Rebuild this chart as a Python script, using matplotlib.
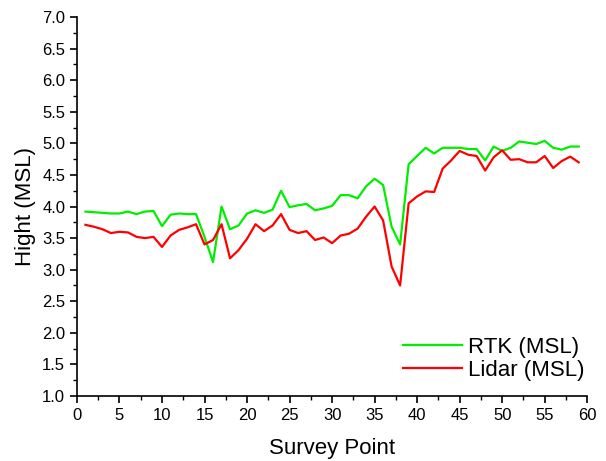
import matplotlib
matplotlib.use("Agg")
import matplotlib.pyplot as plt
from matplotlib.ticker import MultipleLocator, FormatStrFormatter

plt.rcParams['font.family'] = ['Liberation Sans', 'DejaVu Sans']

survey_points = list(range(1, 60))
rtk = [3.92, 3.91, 3.90, 3.89, 3.89, 3.92, 3.88, 3.92, 3.93, 3.69,
       3.87, 3.89, 3.88, 3.88, 3.52, 3.12, 4.00, 3.64, 3.70, 3.89,
       3.94, 3.90, 3.95, 4.25, 3.99, 4.02, 4.04, 3.94, 3.97, 4.01,
       4.18, 4.18, 4.13, 4.32, 4.44, 4.34, 3.68, 3.40, 4.67, 4.80,
       4.93, 4.84, 4.93, 4.93, 4.93, 4.91, 4.91, 4.73, 4.95, 4.88,
       4.93, 5.03, 5.01, 4.99, 5.04, 4.93, 4.90, 4.95, 4.95]
lidar = [3.71, 3.68, 3.64, 3.58, 3.60, 3.59, 3.52, 3.50, 3.52, 3.36,
         3.54, 3.63, 3.67, 3.72, 3.40, 3.47, 3.72, 3.18, 3.31, 3.49,
         3.72, 3.61, 3.70, 3.88, 3.63, 3.58, 3.61, 3.47, 3.51, 3.42,
         3.54, 3.57, 3.65, 3.84, 4.00, 3.78, 3.05, 2.75, 4.05, 4.16,
         4.24, 4.23, 4.60, 4.73, 4.88, 4.82, 4.80, 4.57, 4.78, 4.89,
         4.74, 4.75, 4.70, 4.70, 4.80, 4.61, 4.72, 4.79, 4.70]

fig = plt.figure(figsize=(6.06, 4.61), dpi=100)
ax = fig.add_axes([0.127, 0.141, 0.842, 0.822])
ax.plot(survey_points, rtk, color='#00ee00', lw=1.6, label='RTK (MSL)')
ax.plot(survey_points, lidar, color='#ff0000', lw=1.6, label='Lidar (MSL)')

ax.set_xlim(0, 60)
ax.set_ylim(1.0, 7.0)
ax.xaxis.set_major_locator(MultipleLocator(5))
ax.xaxis.set_minor_locator(MultipleLocator(2.5))
ax.yaxis.set_major_locator(MultipleLocator(0.5))
ax.yaxis.set_minor_locator(MultipleLocator(0.25))
ax.yaxis.set_major_formatter(FormatStrFormatter('%.1f'))
for s in ['top', 'right']:
    ax.spines[s].set_visible(False)
for s in ['left', 'bottom']:
    ax.spines[s].set_linewidth(1.2)
ax.tick_params(which='major', direction='out', length=5, width=1.2, labelsize=12)
ax.tick_params(which='minor', direction='out', length=3, width=1.0)
ax.set_xlabel('Survey Point', fontsize=16, labelpad=11)
ax.set_ylabel('Hight (MSL)', fontsize=16, labelpad=4)
ax.legend(loc='lower right', frameon=False, fontsize=16, handlelength=2.65,
          handletextpad=0.3, labelspacing=0.1, borderpad=0, borderaxespad=0,
          bbox_to_anchor=(585 / 606, 1 - 381 / 461), bbox_transform=fig.transFigure)

fig.savefig('out.png', dpi=100)
